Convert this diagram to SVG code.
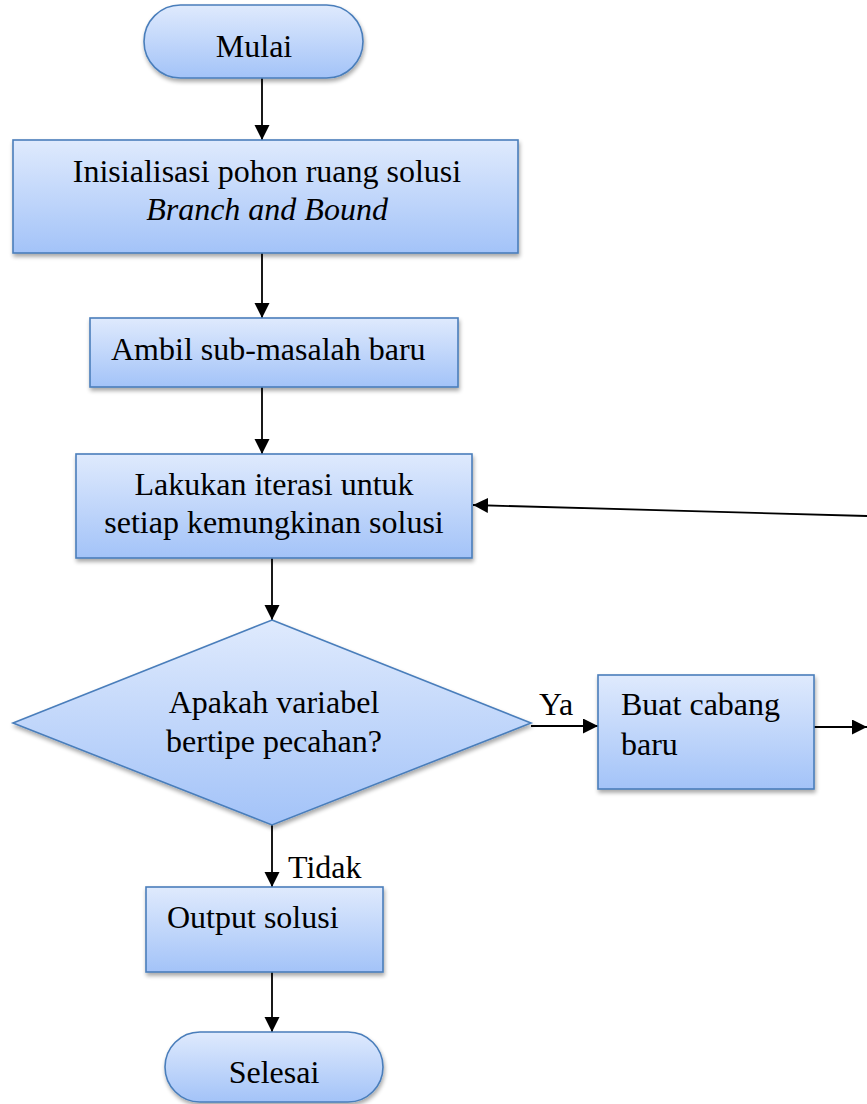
<svg xmlns="http://www.w3.org/2000/svg" width="867" height="1104" viewBox="0 0 867 1104">
<style>
.n{fill:url(#g);stroke:#4a7ebb;stroke-width:1.6;filter:url(#sh)}
.t{font-family:"Liberation Serif","Times New Roman",serif;font-size:32px;fill:#000}
.c{stroke:#000;stroke-width:1.8;fill:none;marker-end:url(#ah)}
</style>
<defs>
<linearGradient id="g" x1="0" y1="0" x2="0" y2="1">
<stop offset="0" stop-color="#dfeafd"/>
<stop offset="1" stop-color="#a3c3f8"/>
</linearGradient>
<filter id="sh" x="-10%" y="-10%" width="120%" height="130%">
<feGaussianBlur in="SourceAlpha" stdDeviation="2"/>
<feOffset dx="1" dy="3" result="b"/>
<feComponentTransfer><feFuncA type="linear" slope="0.35"/></feComponentTransfer>
<feMerge><feMergeNode/><feMergeNode in="SourceGraphic"/></feMerge>
</filter>
<marker id="ah" markerUnits="userSpaceOnUse" markerWidth="16" markerHeight="16" refX="15" refY="7.5" orient="auto">
<path d="M0,0 L15,7.5 L0,15 z" fill="#000"/>
</marker>
</defs>
<g id="connectors">
<line class="c" x1="262" y1="78" x2="262" y2="140"/>
<line class="c" x1="262" y1="253" x2="262" y2="318"/>
<line class="c" x1="262" y1="387" x2="262" y2="454"/>
<line class="c" x1="867" y1="516" x2="473" y2="505"/>
<line class="c" x1="272" y1="558" x2="272" y2="620"/>
<line class="c" x1="531" y1="726" x2="598" y2="726"/>
<line class="c" x1="814" y1="727" x2="867" y2="727"/>
<line class="c" x1="272" y1="825" x2="272" y2="887"/>
<line class="c" x1="272" y1="972" x2="272" y2="1032"/>
<text class="t" x="539" y="715">Ya</text>
<text class="t" x="288" y="878">Tidak</text>
</g>
<g id="mulai">
<rect class="n" x="144" y="5" width="219" height="73" rx="36.5"/>
<text class="t" x="254" y="57" text-anchor="middle">Mulai</text>
</g>
<g id="inisialisasi">
<rect class="n" x="13" y="140" width="505" height="113"/>
<text class="t" x="267" y="182" text-anchor="middle">Inisialisasi pohon ruang solusi</text>
<text class="t" x="267" y="220" text-anchor="middle" font-style="italic">Branch and Bound</text>
</g>
<g id="ambil">
<rect class="n" x="90" y="318" width="368" height="69"/>
<text class="t" x="111" y="360">Ambil sub-masalah baru</text>
</g>
<g id="lakukan">
<rect class="n" x="76" y="454" width="396" height="104"/>
<text class="t" x="274" y="495" text-anchor="middle">Lakukan iterasi untuk</text>
<text class="t" x="274" y="533" text-anchor="middle">setiap kemungkinan solusi</text>
</g>
<g id="keputusan">
<polygon class="n" points="272,620 531,723 272,825 13,723"/>
<text class="t" x="274" y="713" text-anchor="middle">Apakah variabel</text>
<text class="t" x="274" y="752" text-anchor="middle">bertipe pecahan?</text>
</g>
<g id="buat">
<rect class="n" x="598" y="675" width="216" height="114"/>
<text class="t" x="621" y="715">Buat cabang</text>
<text class="t" x="621" y="755">baru</text>
</g>
<g id="output">
<rect class="n" x="146" y="887" width="237" height="85"/>
<text class="t" x="167" y="928">Output solusi</text>
</g>
<g id="selesai">
<rect class="n" x="165" y="1032" width="218" height="70" rx="35"/>
<text class="t" x="274" y="1083" text-anchor="middle">Selesai</text>
</g>
</svg>
